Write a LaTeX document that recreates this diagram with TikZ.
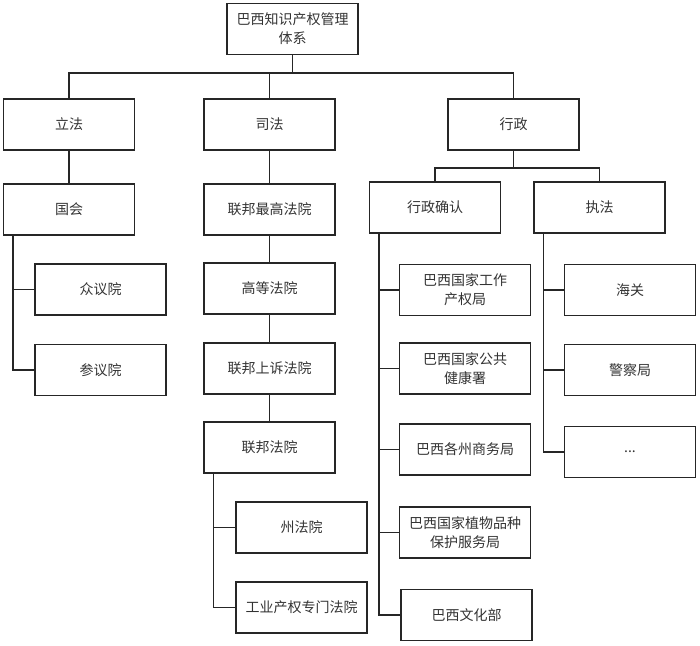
\documentclass[tikz,border=0pt]{standalone}
\usepackage{fontspec}
\newfontfamily\cjk{Noto Sans CJK SC}
\begin{document}
\begin{tikzpicture}[x=1pt,y=-1pt,
  box/.style={draw=black!85,line width=1.5pt,rectangle,minimum width=131pt,minimum height=51pt,inner sep=2pt,align=center,font=\cjk\fontsize{14}{19}\selectfont,text=black!80},
  conn/.style={draw=black!85,line width=1.5pt}]
\useasboundingbox (0,0) rectangle (700,645);
\node[box] (top) at (292.5,29) {巴西知识产权管理\\体系};
\node[box] (lifa) at (69,124.5) {立法};
\node[box] (sifa) at (269.5,124.5) {司法};
\node[box] (xz) at (513.5,124.5) {行政};
\node[box] (gh) at (69,209.5) {国会};
\node[box] (zg) at (269.5,209.5) {联邦最高法院};
\node[box] (qr) at (435,207.5) {行政确认};
\node[box] (zf) at (599.5,207.5) {执法};
\node[box] (zy) at (100.5,289.5) {众议院};
\node[box] (cy) at (100.5,370) {参议院};
\node[box] (gd) at (269.5,288.5) {高等法院};
\node[box] (ss) at (269.5,368.5) {联邦上诉法院};
\node[box] (lb) at (269.5,447.5) {联邦法院};
\node[box] (zhou) at (301.5,527.5) {州法院};
\node[box] (gy) at (301.5,607.5) {工业产权专门法院};
\node[box] (a1) at (465,290) {巴西国家工作\\产权局};
\node[box] (a2) at (465,368.5) {巴西国家公共\\健康署};
\node[box] (a3) at (465,449.5) {巴西各州商务局};
\node[box] (a4) at (465,532.5) {巴西国家植物品种\\保护服务局};
\node[box] (a5) at (466.5,615) {巴西文化部};
\node[box] (b1) at (630,290) {海关};
\node[box] (b2) at (630,370) {警察局};
\node[box] (b3) at (630,452) {...};
\coordinate (bus1) at (0,73);
\coordinate (bus2) at (0,168);
\draw[conn] (top.south) -- (top.south |- bus1);
\draw[conn] (lifa.north) -- (lifa.north |- bus1) -| (xz.north);
\draw[conn] (sifa.north) -- (sifa.north |- bus1);
\draw[conn] (xz.south) -- (xz.south |- bus2);
\draw[conn] (qr.north) -- (qr.north |- bus2) -| (zf.north);
\draw[conn] (lifa) -- (gh);
\draw[conn] (sifa) -- (zg);
\draw[conn] (zg) -- (gd);
\draw[conn] (gd) -- (ss);
\draw[conn] (ss) -- (lb);
\coordinate (ghx) at ([xshift=10pt]gh.south west);
\draw[conn] (ghx) |- (cy.west);
\draw[conn] (zy.west) -- (zy.west -| ghx);
\coordinate (lbx) at ([xshift=10pt]lb.south west);
\draw[conn] (lbx) |- (gy.west);
\draw[conn] (zhou.west) -- (zhou.west -| lbx);
\coordinate (qrx) at ([xshift=10pt]qr.south west);
\draw[conn] (qrx) |- (a5.west);
\foreach \n in {a1,a2,a3,a4} \draw[conn] (\n.west) -- (\n.west -| qrx);
\coordinate (zfx) at ([xshift=10pt]zf.south west);
\draw[conn] (zfx) |- (b3.west);
\foreach \n in {b1,b2} \draw[conn] (\n.west) -- (\n.west -| zfx);
\end{tikzpicture}
\end{document}
